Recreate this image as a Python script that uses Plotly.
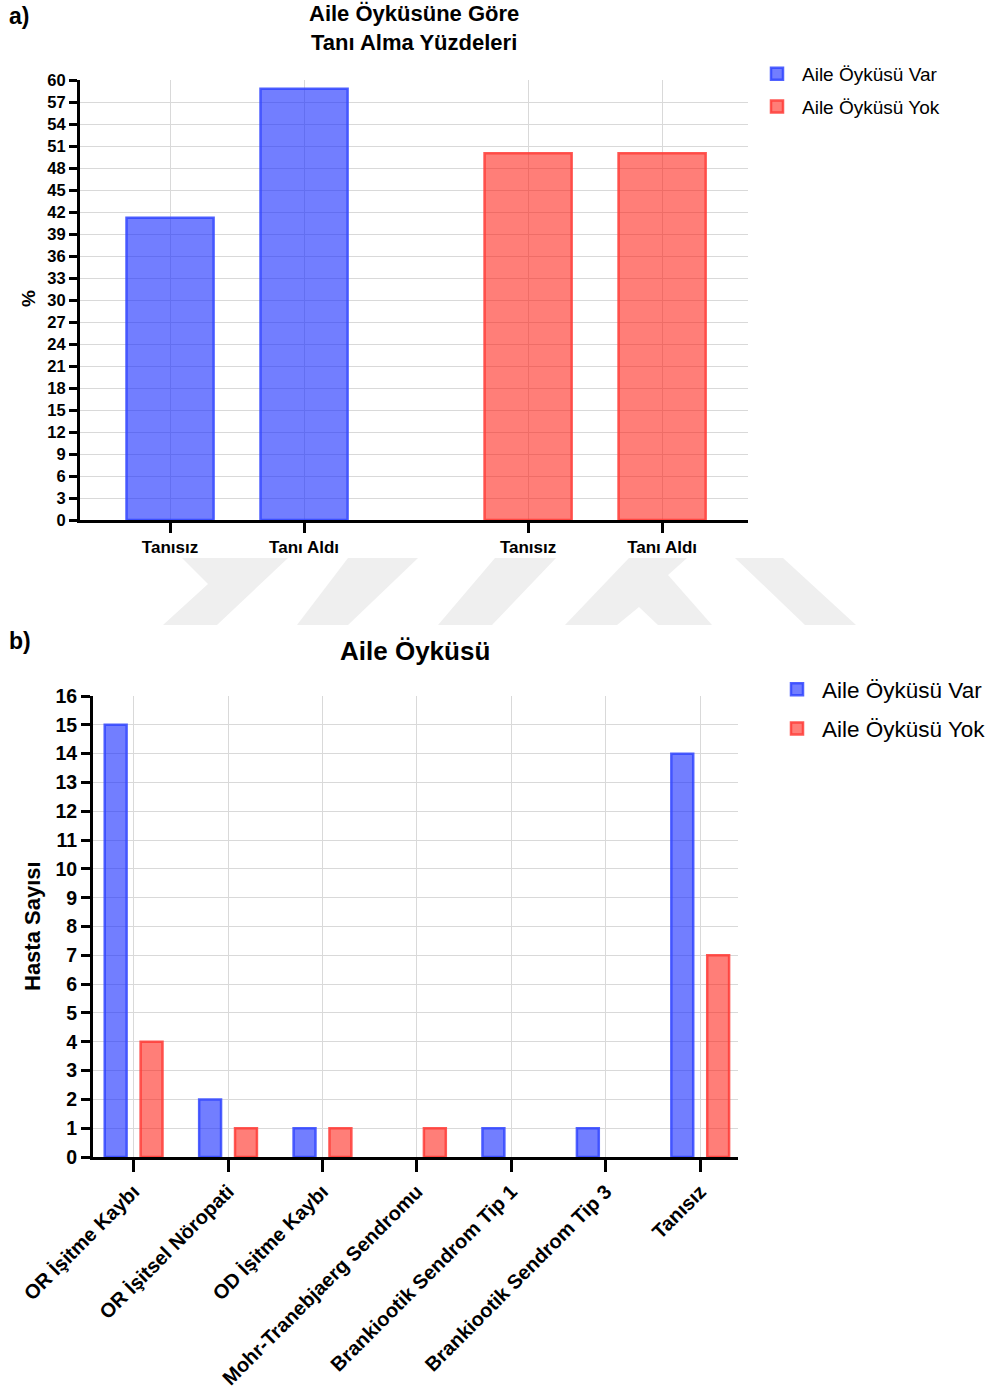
import plotly.graph_objects as go

# ---------------- data ----------------
top_categories = ["Tanısız", "Tanı Aldı"]
top_var = [41.2, 58.8]      # Aile Öyküsü Var (%)
top_yok = [50.0, 50.0]      # Aile Öyküsü Yok (%)

bottom_categories = [
    "OR İşitme Kaybı",
    "OR İşitsel Nöropati",
    "OD İşitme Kaybı",
    "Mohr-Tranebjaerg Sendromu",
    "Brankiootik Sendrom Tip 1",
    "Brankiootik Sendrom Tip 3",
    "Tanısız",
]
bottom_var = [15, 2, 1, 0, 1, 1, 14]
bottom_yok = [4, 1, 1, 1, 0, 0, 7]

series_names = ["Aile Öyküsü Var", "Aile Öyküsü Yok"]
top_yticks = list(range(0, 61, 3))
bottom_yticks = list(range(0, 17, 1))

# ---------------- styling ----------------
W, H = 997, 1395
PAGE_OFFSET = 0  # body margin removed by post_script below
FONT = "Liberation Sans, Arial, Helvetica, sans-serif"
BLUE_FILL = "rgba(20,40,255,0.60)"
BLUE_LINE = "rgba(50,70,255,0.85)"
RED_FILL = "rgba(255,20,10,0.55)"
RED_LINE = "rgba(255,60,55,0.85)"
GRID = "#d9d9d9"


def px(x):
    return (x - PAGE_OFFSET) / W


def py(y):
    return 1 - (y - PAGE_OFFSET) / H


def nz(vals):
    # zero counts draw no bar
    return [v if v != 0 else None for v in vals]


fig = go.Figure()

# top chart: two groups placed along a numeric axis
group_offset = 2.672
blue_x = [i for i in range(len(top_categories))]
red_x = [i + group_offset for i in range(len(top_categories))]
bw = 0.65

fig.add_trace(go.Bar(
    x=blue_x, y=top_var, name=series_names[0], width=bw, offset=-bw / 2,
    marker=dict(color=BLUE_FILL, line=dict(color=BLUE_LINE, width=2.5)),
    xaxis="x", yaxis="y", legend="legend", legendgroup="a1",
))
fig.add_trace(go.Bar(
    x=red_x, y=top_yok, name=series_names[1], width=bw, offset=-bw / 2,
    marker=dict(color=RED_FILL, line=dict(color=RED_LINE, width=2.5)),
    xaxis="x", yaxis="y", legend="legend", legendgroup="a2",
))

# bottom chart: grouped bars on a category axis
fig.add_trace(go.Bar(
    x=bottom_categories, y=nz(bottom_var), name=series_names[0],
    marker=dict(color=BLUE_FILL, line=dict(color=BLUE_LINE, width=2.5)),
    xaxis="x2", yaxis="y2", legend="legend2", legendgroup="b1",
))
fig.add_trace(go.Bar(
    x=bottom_categories, y=nz(bottom_yok), name=series_names[1],
    marker=dict(color=RED_FILL, line=dict(color=RED_LINE, width=2.5)),
    xaxis="x2", yaxis="y2", legend="legend2", legendgroup="b2",
))

axis_common = dict(
    showline=True, linecolor="black", linewidth=3,
    ticks="outside", tickcolor="black", tickwidth=3,
    showgrid=True, gridcolor=GRID, gridwidth=1,
    zeroline=False, fixedrange=True, automargin=False,
)

fig.update_layout(
    width=W, height=H,
    margin=dict(l=0, r=0, t=0, b=0, autoexpand=False),
    paper_bgcolor="white", plot_bgcolor="white",
    font=dict(family=FONT, color="black"),
    barmode="group", bargap=0.24, bargroupgap=0.39,
    showlegend=True,
    xaxis=dict(
        **axis_common, domain=[px(80), px(748)], anchor="y",
        range=[-0.672, 4.313],
        tickvals=blue_x + red_x, ticktext=top_categories + top_categories,
        ticklen=10,
        tickfont=dict(size=17, family=FONT, weight="bold"),
    ),
    yaxis=dict(
        **axis_common, domain=[py(520), py(80)], anchor="x",
        range=[0, 60], tickvals=top_yticks, ticklen=8,
        tickfont=dict(size=16.5, family=FONT, weight="bold"),
    ),
    xaxis2=dict(
        **axis_common, domain=[px(93), px(738)], anchor="y2",
        range=[-0.43, 6.40], type="category",
        ticklen=12, tickangle=-45,
        tickfont=dict(size=20, family=FONT, weight="bold"),
    ),
    yaxis2=dict(
        **axis_common, domain=[py(1157), py(696)], anchor="x2",
        range=[0, 16], tickvals=bottom_yticks, ticklen=9,
        tickfont=dict(size=19.5, family=FONT, weight="bold"),
    ),
    legend=dict(
        x=px(752), y=py(55), xanchor="left", yanchor="top",
        font=dict(size=19, family=FONT), tracegroupgap=5,
        bgcolor="rgba(0,0,0,0)", itemwidth=40,
    ),
    legend2=dict(
        x=px(772), y=py(668), xanchor="left", yanchor="top",
        font=dict(size=22.5, family=FONT), tracegroupgap=7,
        bgcolor="rgba(0,0,0,0)", itemwidth=40,
    ),
)

annotations = [
    dict(text="a)", x=px(7), y=py(16), xanchor="left", yanchor="middle",
         font=dict(size=23, weight="bold")),
    dict(text="b)", x=px(7), y=py(641), xanchor="left", yanchor="middle",
         font=dict(size=23, weight="bold")),
    dict(text="Aile Öyküsüne Göre<br>Tanı Alma Yüzdeleri", x=px(414), y=py(28),
         xanchor="center", yanchor="middle",
         font=dict(size=22, weight="bold")),
    dict(text="Aile Öyküsü", x=px(415), y=py(651), xanchor="center", yanchor="middle",
         font=dict(size=26, weight="bold")),
    dict(text="%", x=px(28), y=py(299), xanchor="center", yanchor="middle",
         textangle=-90, font=dict(size=19, weight="bold")),
    dict(text="Hasta Sayısı", x=px(32), y=py(926), xanchor="center", yanchor="middle",
         textangle=-90, font=dict(size=22, weight="bold")),
]
for a in annotations:
    a.update(xref="paper", yref="paper", showarrow=False)
    a["font"].setdefault("family", FONT)
    a["font"].setdefault("color", "black")
fig.update_layout(annotations=annotations)

# faint background watermark visible between the two charts
wm_polys = [
    [(182, 558), (288, 558), (217, 625), (163, 625), (208, 584)],
    [(348, 558), (418, 558), (348, 625), (297, 625)],
    [(495, 558), (556, 558), (492, 625), (438, 625)],
    [(629, 558), (687, 558), (668, 575), (712, 625), (658, 625), (639, 607),
     (617, 625), (565, 625)],
    [(735, 558), (783, 558), (856, 625), (805, 625)],
]
shapes = []
for poly in wm_polys:
    path = "M " + " L ".join(f"{px(x):.5f},{py(y):.5f}" for x, y in poly) + " Z"
    shapes.append(dict(type="path", path=path, xref="paper", yref="paper",
                       fillcolor="#efefef", line=dict(width=0), layer="below"))
fig.update_layout(shapes=shapes)

fig.write_html(
    "out.html",
    config={"displayModeBar": False},
    post_script="document.body.style.margin='0';document.body.style.overflow='hidden';",
)
